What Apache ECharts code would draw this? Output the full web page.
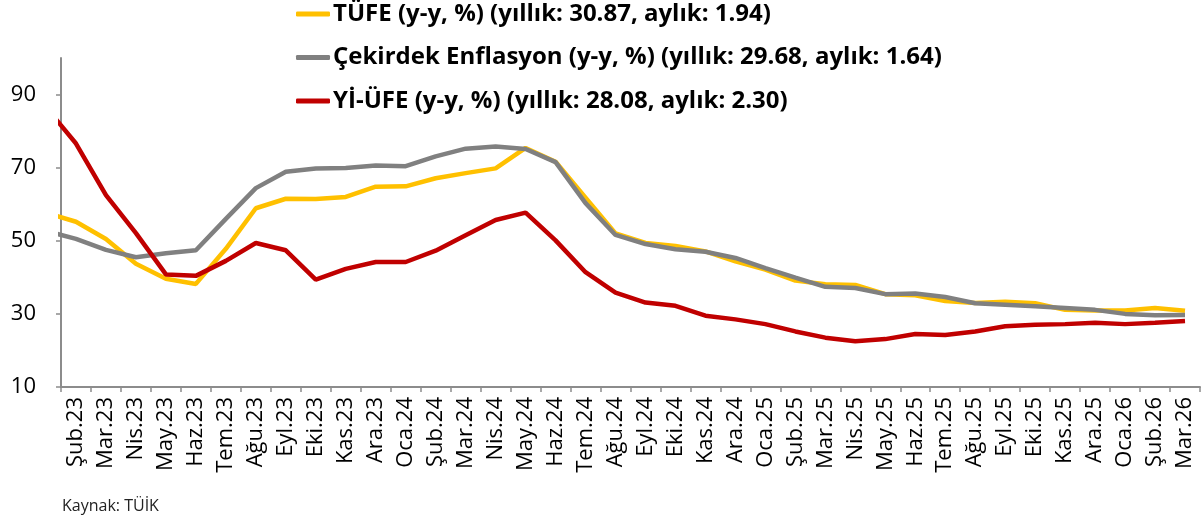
<!DOCTYPE html>
<html>
<head>
<meta charset="utf-8">
<script src="https://cdn.jsdelivr.net/npm/echarts@6/dist/echarts.min.js"></script>
<style>
  html, body { margin: 0; padding: 0; background: #fff; }
  #chart { width: 1204px; height: 522px; }
</style>
</head>
<body>
<div id="chart"></div>
<script>
// aylar - Oca.23 sadece çizgi sol kenardan kesilsin diye var, eksende görünmüyor
const months = ['Oca.23', 'Şub.23', 'Mar.23', 'Nis.23', 'May.23', 'Haz.23', 'Tem.23', 'Ağu.23', 'Eyl.23', 'Eki.23', 'Kas.23', 'Ara.23',
  'Oca.24', 'Şub.24', 'Mar.24', 'Nis.24', 'May.24', 'Haz.24', 'Tem.24', 'Ağu.24', 'Eyl.24', 'Eki.24', 'Kas.24', 'Ara.24',
  'Oca.25', 'Şub.25', 'Mar.25', 'Nis.25', 'May.25', 'Haz.25', 'Tem.25', 'Ağu.25', 'Eyl.25', 'Eki.25', 'Kas.25', 'Ara.25',
  'Oca.26', 'Şub.26', 'Mar.26']

const tufe = [57.7, 55.2, 50.5, 43.7, 39.6, 38.2, 47.8, 58.9, 61.5, 61.4, 62.0, 64.8,
  64.9, 67.1, 68.5, 69.8, 75.4, 71.6, 61.8, 52.0, 49.4, 48.6, 47.1, 44.4,
  42.1, 39.1, 38.1, 37.9, 35.4, 35.1, 33.5, 33.0, 33.3, 32.9, 31.1, 30.9,
  30.9, 31.6, 30.87]

const cekirdek = [52.7, 50.5, 47.5, 45.5, 46.6, 47.4, 56.0, 64.4, 68.9, 69.8, 69.9, 70.6,
  70.4, 73.1, 75.2, 75.8, 75.1, 71.5, 60.3, 51.6, 49.1, 47.7, 47.0, 45.3,
  42.5, 39.9, 37.4, 37.1, 35.4, 35.6, 34.6, 32.9, 32.5, 32.1, 31.6, 31.1,
  30.0, 29.6, 29.68]

const yiufe = [86.5, 76.6, 62.5, 52.1, 40.8, 40.4, 44.5, 49.4, 47.4, 39.4, 42.3, 44.2,
  44.2, 47.3, 51.5, 55.7, 57.7, 50.1, 41.4, 35.8, 33.1, 32.2, 29.5, 28.5,
  27.2, 25.2, 23.5, 22.5, 23.1, 24.5, 24.2, 25.2, 26.6, 27.0, 27.2, 27.6,
  27.2, 27.6, 28.08]

const seriesNames = [
  'TÜFE (y-y, %) (yıllık: 30.87, aylık: 1.94)',
  'Çekirdek Enflasyon (y-y, %) (yıllık: 29.68, aylık: 1.64)',
  'Yİ-ÜFE (y-y, %) (yıllık: 28.08, aylık: 2.30)'
]
const colors = ['#FFC000', '#808080', '#C00000']
const yTicks = [10, 30, 50, 70, 90]

const fontName = '"Open Sans", "Noto Sans", sans-serif'
const axisGray = '#8c8c8c'

// gizli değer ekseninde x = ay sırası - 1 (Şub.23 = 0)
function toPoints(arr) {
  return arr.map((v, i) => [i - 1, v])
}

const chart = echarts.init(document.getElementById('chart'))

const option = {
  animation: false,
  color: colors,
  textStyle: { fontFamily: fontName },
  grid: {
    left: 61,
    right: 4,
    top: 58,
    bottom: 135,
    containLabel: false
  },
  legend: {
    orient: 'vertical',
    left: 291,
    top: -3,
    itemGap: 19.5,
    itemWidth: 34,
    itemHeight: 5,
    icon: 'roundRect',
    z: 10,
    textStyle: {
      fontFamily: fontName,
      fontSize: 24,
      lineHeight: 24,
      fontWeight: 'bold',
      color: '#000',
      padding: [0, 0, 0, -2]
    },
    data: seriesNames
  },
  xAxis: [
    {
      type: 'category',
      data: months.slice(1),
      boundaryGap: true,
      axisLine: { lineStyle: { color: axisGray, width: 2 } },
      axisTick: { show: true, length: 5, lineStyle: { color: axisGray, width: 1.5 } },
      axisLabel: {
        interval: 0,
        rotate: 90,
        margin: 10,
        fontSize: 22,
        color: '#000',
        fontFamily: fontName
      },
      splitLine: { show: false }
    },
    {
      type: 'value',
      min: -0.5,
      max: months.length - 1.5,
      show: false
    }
  ],
  yAxis: {
    type: 'value',
    min: 10,
    max: 100,
    interval: 20,
    axisLine: { show: true, onZero: false, lineStyle: { color: axisGray, width: 2 } },
    axisTick: { show: true, length: 5, customValues: yTicks, lineStyle: { color: axisGray, width: 1.5 } },
    axisLabel: {
      customValues: yTicks,
      margin: 25,
      fontSize: 22,
      color: '#000',
      fontFamily: fontName
    },
    splitLine: { show: false }
  },
  graphic: [
    {
      type: 'text',
      left: 62,
      top: 498,
      style: {
        text: 'Kaynak: TÜİK',
        fontSize: 16,
        fontFamily: fontName,
        fill: '#222'
      }
    }
  ],
  series: [
    {
      name: seriesNames[0],
      type: 'line',
      xAxisIndex: 1,
      data: toPoints(tufe),
      symbol: 'none',
      clip: true,
      lineStyle: { width: 4.5, color: colors[0] },
      z: 2
    },
    {
      name: seriesNames[1],
      type: 'line',
      xAxisIndex: 1,
      data: toPoints(cekirdek),
      symbol: 'none',
      clip: true,
      lineStyle: { width: 4.5, color: colors[1] },
      z: 3
    },
    {
      name: seriesNames[2],
      type: 'line',
      xAxisIndex: 1,
      data: toPoints(yiufe),
      symbol: 'none',
      clip: true,
      lineStyle: { width: 4.5, color: colors[2] },
      z: 4
    }
  ]
}

chart.setOption(option)
</script>
</body>
</html>
